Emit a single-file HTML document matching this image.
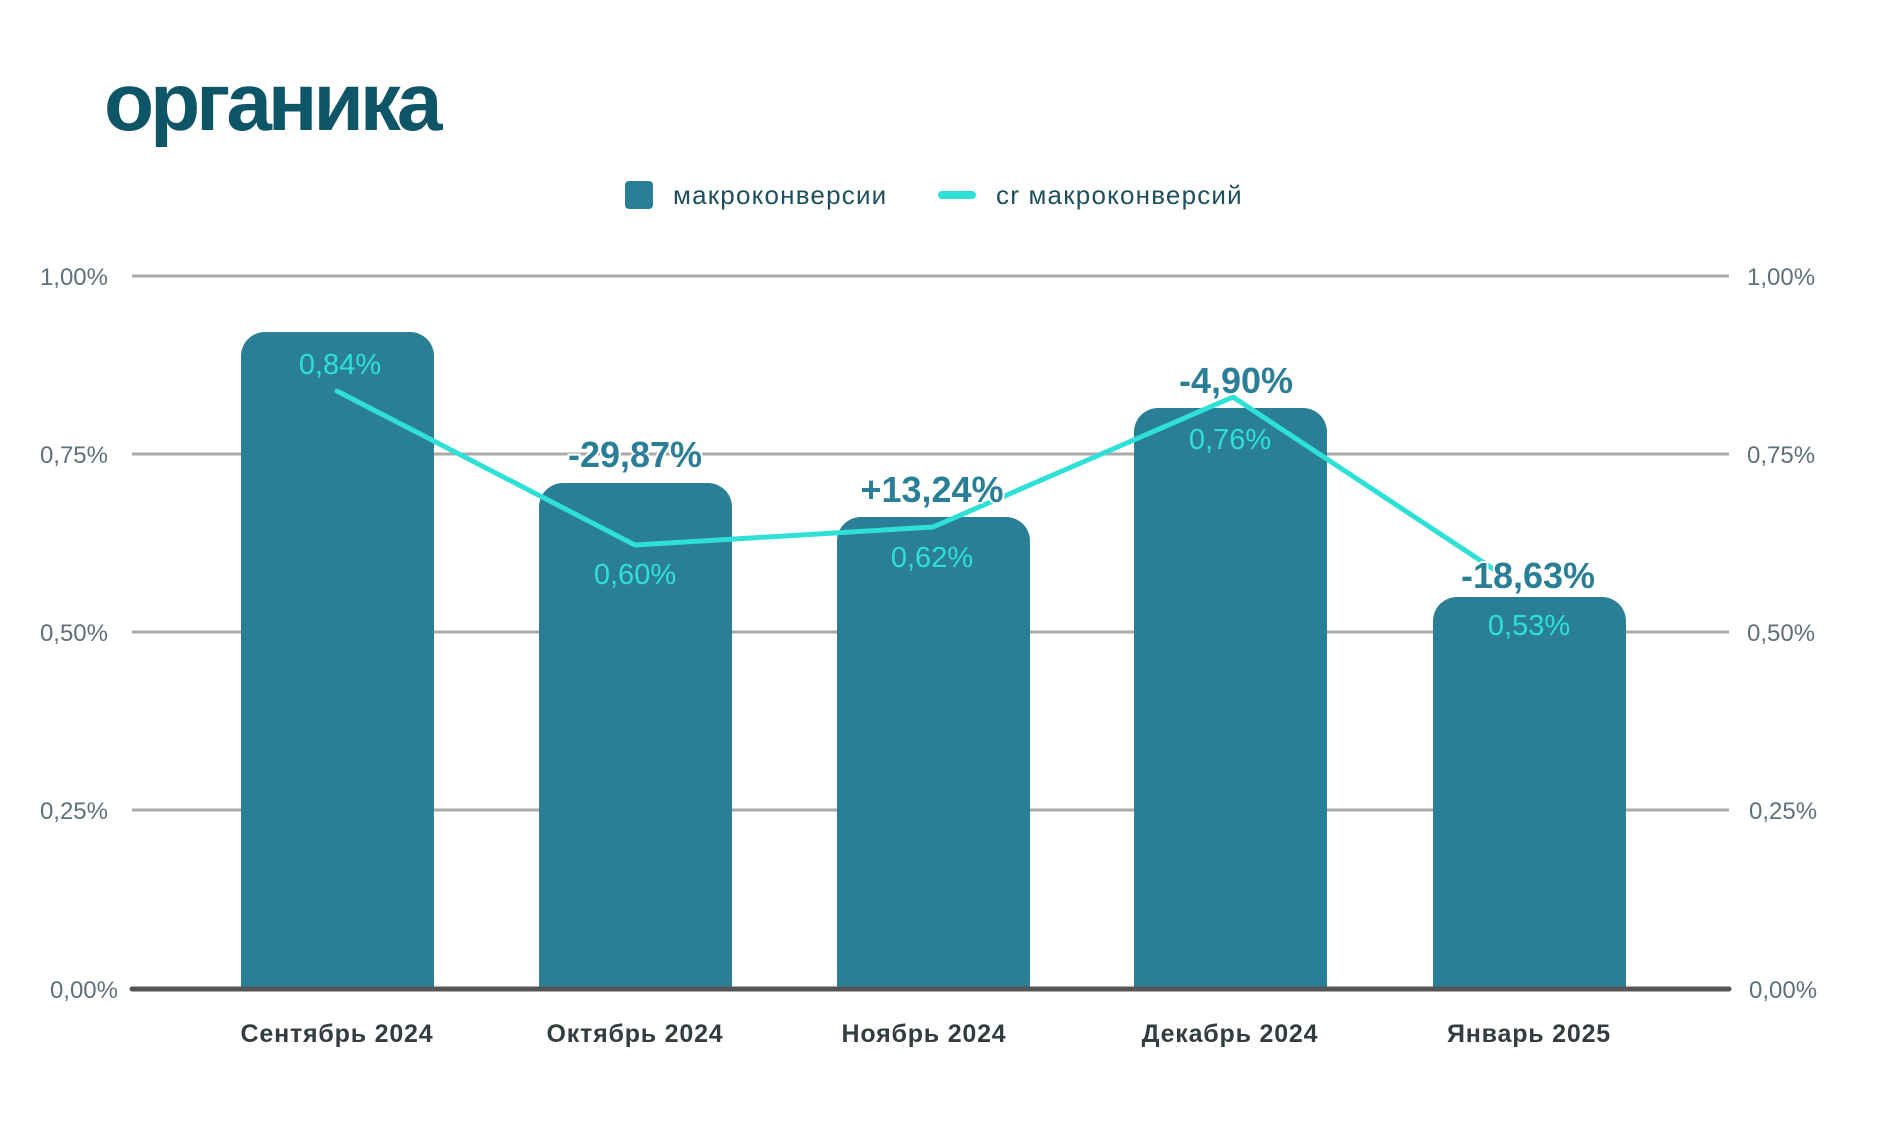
<!DOCTYPE html>
<html><head><meta charset="utf-8"><style>
body{margin:0;background:#fff;}
svg{display:block;font-family:"Liberation Sans",sans-serif;}
</style></head><body>
<svg width="1887" height="1122" viewBox="0 0 1887 1122" xmlns="http://www.w3.org/2000/svg">
<rect width="1887" height="1122" fill="#fff"/>
<text x="104" y="130" font-size="82" font-weight="bold" fill="#0f5568" letter-spacing="-4">органика</text>
<rect x="625" y="181" width="28" height="28" rx="4" fill="#2a7f96"/>
<text x="673" y="204" font-size="26" fill="#1f4f5c" letter-spacing="1.2">макроконверсии</text>
<line x1="942" y1="195" x2="972" y2="195" stroke="#2ee0d6" stroke-width="8" stroke-linecap="round"/>
<text x="996" y="204" font-size="26" fill="#1f4f5c" letter-spacing="1.2">cr макроконверсий</text>
<g stroke="#aaa" stroke-width="3">
<line x1="132" y1="276" x2="1729" y2="276"/>
<line x1="132" y1="454" x2="1729" y2="454"/>
<line x1="132" y1="632" x2="1729" y2="632"/>
<line x1="132" y1="810" x2="1729" y2="810"/>
</g>
<g font-size="24" fill="#5f7178">
<text x="108" y="285" text-anchor="end">1,00%</text>
<text x="108" y="463" text-anchor="end">0,75%</text>
<text x="108" y="641" text-anchor="end">0,50%</text>
<text x="108" y="819" text-anchor="end">0,25%</text>
<text x="118" y="998" text-anchor="end">0,00%</text>
<text x="1747" y="285">1,00%</text>
<text x="1747" y="463">0,75%</text>
<text x="1747" y="641">0,50%</text>
<text x="1749" y="819">0,25%</text>
<text x="1749" y="998">0,00%</text>
</g>
<g fill="#2a7f96">
<path d="M241 989V356a24 24 0 0 1 24-24h145a24 24 0 0 1 24 24V989z"/>
<path d="M539 989V507a24 24 0 0 1 24-24h145a24 24 0 0 1 24 24V989z"/>
<path d="M837 989V541a24 24 0 0 1 24-24h145a24 24 0 0 1 24 24V989z"/>
<path d="M1134 989V432a24 24 0 0 1 24-24h145a24 24 0 0 1 24 24V989z"/>
<path d="M1433 989V621a24 24 0 0 1 24-24h145a24 24 0 0 1 24 24V989z"/>
</g>
<line x1="132" y1="989" x2="1729" y2="989" stroke="#555" stroke-width="5" stroke-linecap="round"/>
<polyline points="337,391 635,545 933,527 1233,397 1519,586" fill="none" stroke="#2ee0d6" stroke-width="5" stroke-linejoin="round" stroke-linecap="round"/>
<g font-size="29" fill="#2ee0d6" text-anchor="middle">
<text x="340" y="374">0,84%</text>
<text x="635" y="584">0,60%</text>
<text x="932" y="567">0,62%</text>
<text x="1230" y="449">0,76%</text>
<text x="1529" y="635">0,53%</text>
</g>
<g font-size="36" font-weight="bold" fill="#2a7f96" text-anchor="middle" stroke="#fff" stroke-width="4" paint-order="stroke">
<text x="635" y="467">-29,87%</text>
<text x="932" y="502">+13,24%</text>
<text x="1236" y="393">-4,90%</text>
<text x="1528" y="588">-18,63%</text>
</g>
<g font-size="25" font-weight="bold" fill="#333d40" text-anchor="middle" letter-spacing="0.8">
<text x="337" y="1042">Сентябрь 2024</text>
<text x="635" y="1042">Октябрь 2024</text>
<text x="924" y="1042">Ноябрь 2024</text>
<text x="1230" y="1042">Декабрь 2024</text>
<text x="1529" y="1042">Январь 2025</text>
</g>
</svg>
</body></html>
